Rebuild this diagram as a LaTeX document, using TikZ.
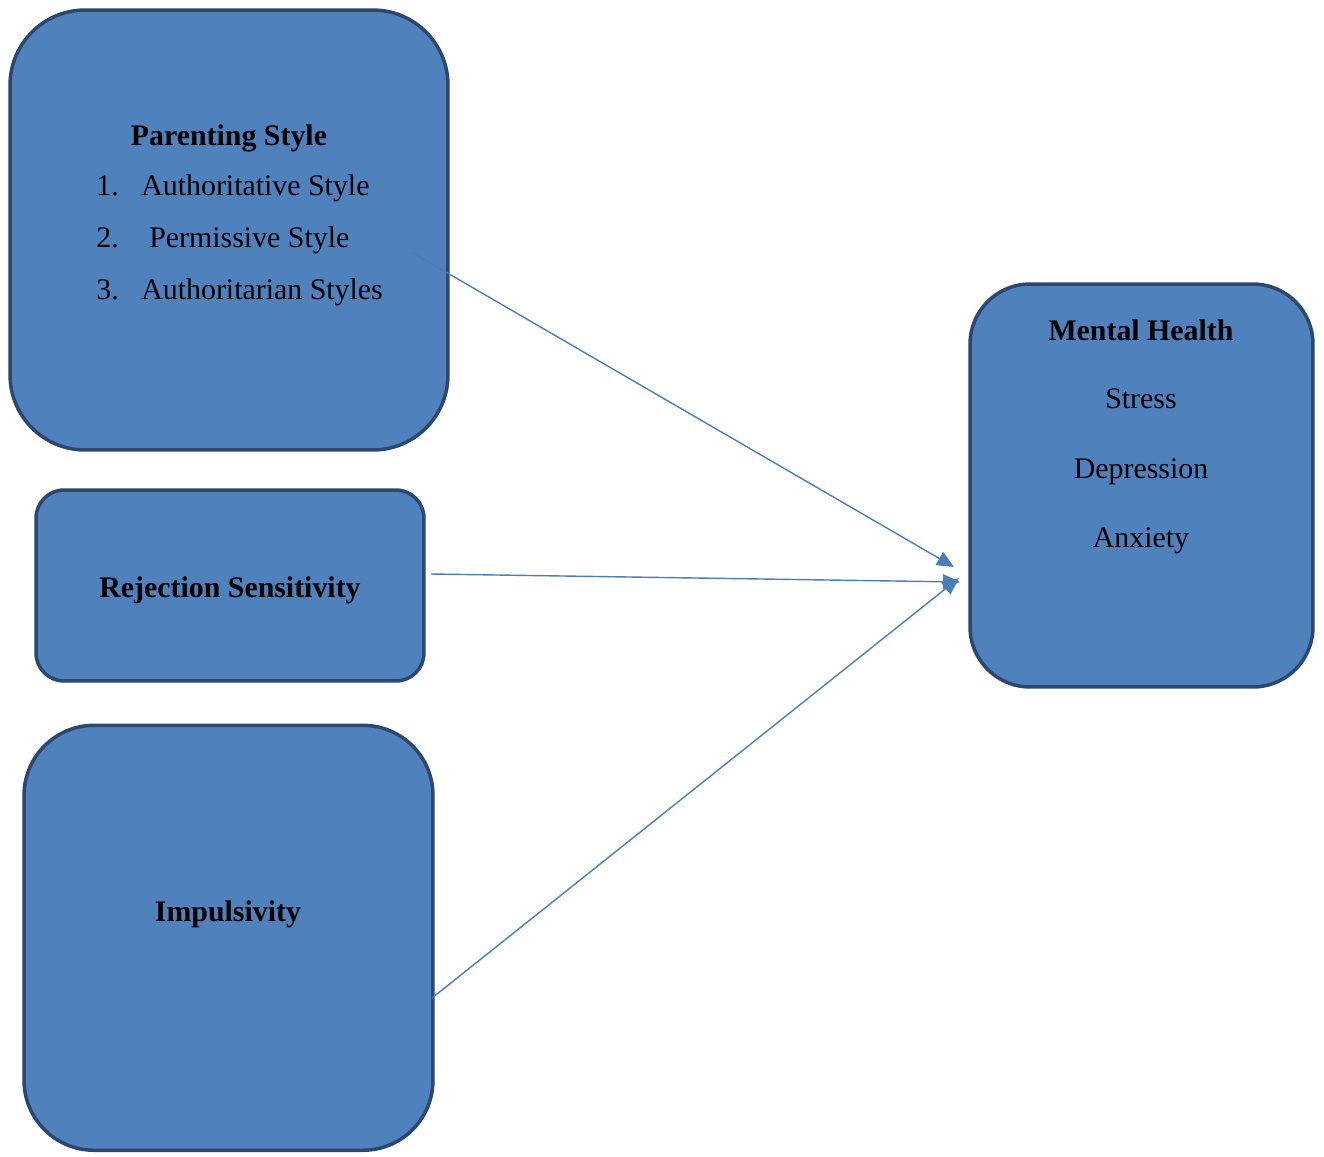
\documentclass[tikz,border=0pt]{standalone}
\usepackage{fontspec}
\setmainfont{Liberation Serif}
\usetikzlibrary{arrows.meta}
\definecolor{boxblue}{HTML}{4F81BD}
\definecolor{boxline}{HTML}{2C4770}
\definecolor{arrowblue}{HTML}{4A7EBB}
\tikzset{
  factor/.style={draw=boxline, fill=boxblue, line width=2pt, rectangle},
  txt/.style={font=\fontsize{17}{20}\selectfont, inner sep=0pt, anchor=base},
  head/.style={txt, font=\fontsize{17}{20}\selectfont\bfseries},
  link/.style={draw=arrowblue, line width=0.8pt, -{Triangle[length=0.34cm,width=0.3cm]}}
}
\begin{document}
\begin{tikzpicture}[x=0.02cm,y=-0.02cm]
\useasboundingbox (0,0) rectangle (1324,1156);
% boxes
\node[factor, rounded corners=1.5cm, minimum width=8.76cm, minimum height=8.8cm] (parent) at (229,230) {};
\node[factor, rounded corners=0.56cm, minimum width=7.76cm, minimum height=3.82cm] (reject) at (230,585.5) {};
\node[factor, rounded corners=1.4cm, minimum width=8.18cm, minimum height=8.5cm] (impuls) at (228.5,1152) [anchor=south] {};
\node[factor, rounded corners=1.2cm, minimum width=6.86cm, minimum height=8.06cm] (mental) at (1141.5,485.5) {};
% texts
\node[head] (ps-title) at (229,145) {Parenting Style};
\node[txt, anchor=base west] (ps-n1) at (96,195) {1.};
\node[txt, anchor=base west] (ps-n2) at (96,247) {2.};
\node[txt, anchor=base west] (ps-n3) at (96,299) {3.};
\node[txt, anchor=base west] (ps-a) at (141,195) {Authoritative Style};
\node[txt, anchor=base west] (ps-b) at (149,247) {Permissive Style};
\node[txt, anchor=base west] (ps-c) at (141,299) {Authoritarian Styles};
\node[head] (rs-title) at (230,597) {Rejection Sensitivity};
\node[head] (im-title) at (228,921) {Impulsivity};
\node[head] (mh-title) at (1141,340) {Mental Health};
\node[txt] (mh-a) at (1141,408) {Stress};
\node[txt] (mh-b) at (1141,478) {Depression};
\node[txt] (mh-c) at (1141,547) {Anxiety};
% arrows
\coordinate (ps-out) at (413,253);
\coordinate (rs-out) at (431,574);
\coordinate (im-out) at (432,998);
\coordinate (mh-in1) at (954,567);
\coordinate (mh-in2) at (960,582);
\coordinate (mh-in3) at (959,578);
\draw[link] (ps-out) -- (mh-in1);
\draw[link] (rs-out) -- (mh-in2);
\draw[link] (im-out) -- (mh-in3);
\end{tikzpicture}
\end{document}
